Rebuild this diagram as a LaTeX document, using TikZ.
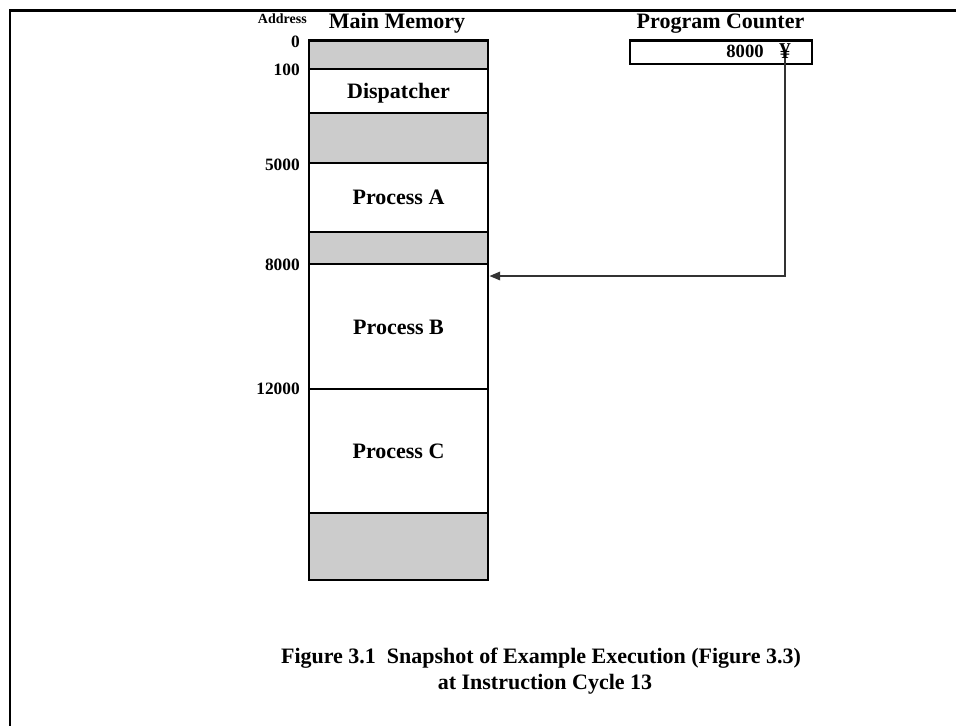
\documentclass[tikz,border=0pt]{standalone}
\usepackage{fontspec}
\setmainfont{Liberation Serif}
\usetikzlibrary{arrows.meta,fit}
\definecolor{memgray}{HTML}{CCCCCC}
\definecolor{wire}{HTML}{333333}
\begin{document}
\begin{tikzpicture}[x=0.75pt,y=-0.75pt,
  cellbox/.style={draw, line width=2.2pt, inner sep=0pt},
  freecell/.style={cellbox, fill=memgray},
  usedcell/.style={cellbox, fill=white},
  celltext/.style={font=\fontsize{16.5}{19}\selectfont\bfseries, inner sep=0pt, anchor=base},
  title/.style={font=\fontsize{16.5}{19}\selectfont\bfseries, inner sep=0pt, anchor=base},
  addr/.style={font=\fontsize{13}{15}\selectfont\bfseries, inner sep=0pt, anchor=base east},
  pcval/.style={font=\fontsize{14}{16}\selectfont\bfseries, inner sep=0pt},
  ptr/.style={draw=wire, line width=1pt, -{Triangle[length=8pt,width=6.5pt]}},
  frameline/.style={line width=2pt}
]
\useasboundingbox (0,0) rectangle (956,725);

% outer frame (left and top edges)
\draw[frameline] (10,740) -- (10,10.5) -- (970,10.5);

% memory column headings
\node[font=\fontsize{10.5}{12}\selectfont\bfseries, inner sep=0pt, anchor=base east] (addrhead) at (307,23) {Address};
\node[title] (memhead) at (397,28) {Main Memory};

% memory regions, top to bottom
\node[freecell, fit={(309,40.7) (488,69)}] (free0) {};
\node[usedcell, fit={(309,69) (488,113)}] (disp) {};
\node[freecell, fit={(309,113) (488,163)}] (free1) {};
\node[usedcell, fit={(309,163) (488,232)}] (procA) {};
\node[freecell, fit={(309,232) (488,264)}] (free2) {};
\node[usedcell, fit={(309,264) (488,389)}] (procB) {};
\node[usedcell, fit={(309,389) (488,513)}] (procC) {};
\node[freecell, fit={(309,513) (488,580)}] (free3) {};

% region names
\node[celltext] (tdisp) at (398.5,98) {Dispatcher};
\node[celltext] (tA) at (398.5,204) {Process A};
\node[celltext] (tB) at (398.5,334) {Process B};
\node[celltext] (tC) at (398.5,458) {Process C};

% start addresses
\node[addr] (a0) at (300,47) {0};
\node[addr] (a100) at (300,75) {100};
\node[addr] (a5000) at (300,170) {5000};
\node[addr] (a8000) at (300,270) {8000};
\node[addr] (a12000) at (300,394) {12000};

% program counter
\node[title] (pchead) at (720.5,28) {Program Counter};
\node[draw, line width=1.9pt, inner sep=0pt, fit={(630,40.7) (812,64)}] (pc) {};
\node[pcval, anchor=base east] (pcnum) at (764,57) {8000};
\node[pcval, font=\fontsize{17}{18}\selectfont\bfseries, anchor=base] (yen) at (785,58) {¥};

% pointer into main memory
\coordinate (hit) at (489.5,276);
\draw[ptr] (yen.south) |- (hit);

% caption
\node[title] (cap1) at (541,663) {Figure 3.1\hspace{0.5em}Snapshot of Example Execution (Figure 3.3)};
\node[title] (cap2) at (545,689) {at Instruction Cycle 13};
\end{tikzpicture}
\end{document}
